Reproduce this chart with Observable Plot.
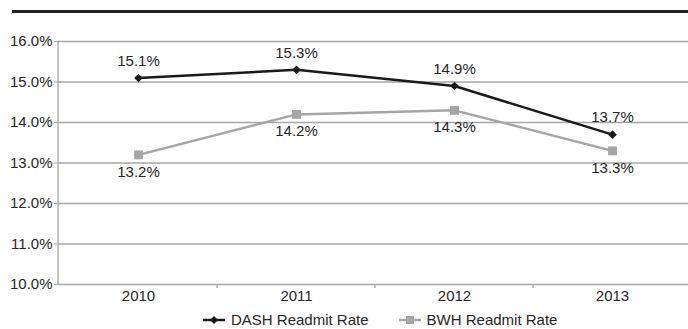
<!DOCTYPE html>
<html>
<head>
<meta charset="utf-8">
<script src="https://cdn.jsdelivr.net/npm/d3@7"></script>
<script src="https://cdn.jsdelivr.net/npm/@observablehq/plot@0.6"></script>
<style>
  html, body { margin: 0; padding: 0; background: #fff; overflow: hidden; width: 688px; height: 329px; }
  body { position: relative; font-family: "Liberation Sans", Arial, sans-serif; }
  #bar { position: absolute; left: 12px; top: 10px; width: 676px; height: 3px; background: #231f20; }
  #chart { position: absolute; left: 0; top: 20px; width: 692px; }
  #legend { position: absolute; left: 203px; top: 311px; display: flex; align-items: center; font-size: 15px; color: #262626; white-space: nowrap; }
  #legend .item { display: flex; align-items: center; }
  #legend svg { margin-right: 6px; }
</style>
</head>
<body>
<div id="bar"></div>
<div id="chart"></div>
<div id="legend"></div>
<script>
const years = ["2010", "2011", "2012", "2013"];
const dashRate = [15.1, 15.3, 14.9, 13.7];
const bwhRate = [13.2, 14.2, 14.3, 13.3];
const yTicks = [10, 11, 12, 13, 14, 15, 16];
const seriesNames = ["DASH Readmit Rate", "BWH Readmit Rate"];

const dash = years.map((y, i) => ({year: y, value: dashRate[i]}));
const bwh = years.map((y, i) => ({year: y, value: bwhRate[i]}));
const fmt = d => d.toFixed(1) + "%";

const gridColor = "#a6a6a6";
const dashColor = "#1a1a1a";
const bwhColor = "#a5a5a5";

const diamondSymbol = {
  draw(ctx, size) {
    const h = Math.sqrt(size / Math.PI);
    ctx.moveTo(0, -h); ctx.lineTo(h, 0); ctx.lineTo(0, h); ctx.lineTo(-h, 0); ctx.closePath();
  }
};

// tick marks between categories (band boundaries)
function boundaryTicks(index, scales, values, dims) {
  const x = scales.x, y = scales.y;
  const g = d3.create("svg:g");
  const y0 = y(10);
  years.slice(1).forEach(yr => {
    const px = x(yr);
    g.append("line").attr("x1", px).attr("x2", px).attr("y1", y0).attr("y2", y0 + 4)
      .attr("stroke", gridColor).attr("stroke-width", 1.3);
  });
  return g.node();
}

const plot = Plot.plot({
  width: 692,
  height: 288,
  marginLeft: 58,
  marginRight: 0,
  marginTop: 21,
  marginBottom: 24,
  style: {fontFamily: "Liberation Sans, Arial, sans-serif", fontSize: "15px", color: "#262626", background: "transparent", overflow: "visible", maxWidth: "none"},
  x: {type: "band", domain: years, padding: 0, label: null, tickSize: 0, tickPadding: 6},
  y: {domain: [10, 16], ticks: yTicks, tickFormat: fmt, label: null, tickSize: 4, tickPadding: 2},
  marks: [
    Plot.ruleY(yTicks, {stroke: gridColor, strokeWidth: 1.3}),
    boundaryTicks,
    Plot.line(bwh, {x: "year", y: "value", stroke: bwhColor, strokeWidth: 2.5}),
    Plot.dot(bwh, {x: "year", y: "value", symbol: "square", r: 5, fill: bwhColor, stroke: "none"}),
    Plot.line(dash, {x: "year", y: "value", stroke: dashColor, strokeWidth: 2.5}),
    Plot.dot(dash, {x: "year", y: "value", symbol: diamondSymbol, r: 4.3, fill: dashColor, stroke: "none"}),
    Plot.text(dash, {x: "year", y: "value", text: d => fmt(d.value), dy: -17, fill: "#262626", fontSize: 15}),
    Plot.text(bwh, {x: "year", y: "value", text: d => fmt(d.value), dy: 17, fill: "#262626", fontSize: 15})
  ]
});
const svg = d3.select(plot);
document.getElementById("chart").appendChild(plot);

// vertical axis line from the y scale
const ys = plot.scale("y");
svg.append("line").attr("x1", 58).attr("x2", 58).attr("y1", ys.apply(16)).attr("y2", ys.apply(10))
  .attr("stroke", gridColor).attr("stroke-width", 1.3);
svg.selectAll("g[aria-label='y-axis'] path, g[aria-label='y-axis tick'] path, g[aria-label='y-axis'] line").attr("stroke", gridColor);

// legend
const legend = d3.select("#legend");
const items = [
  {name: seriesNames[0], color: dashColor, sym: "diamond"},
  {name: seriesNames[1], color: bwhColor, sym: "square"}
];
items.forEach((it, i) => {
  const item = legend.append("div").attr("class", "item").style("margin-left", i ? "30px" : "0");
  const s = item.append("svg").attr("width", 22).attr("height", 12);
  s.append("line").attr("x1", 0).attr("x2", 22).attr("y1", 6).attr("y2", 6).attr("stroke", it.color).attr("stroke-width", 2.5);
  if (it.sym === "square") s.append("rect").attr("x", 7).attr("y", 2).attr("width", 8).attr("height", 8).attr("fill", it.color);
  else s.append("path").attr("d", "M11,2 L15,6 L11,10 L7,6 Z").attr("fill", it.color);
  item.append("span").text(it.name);
});
</script>
</body>
</html>
